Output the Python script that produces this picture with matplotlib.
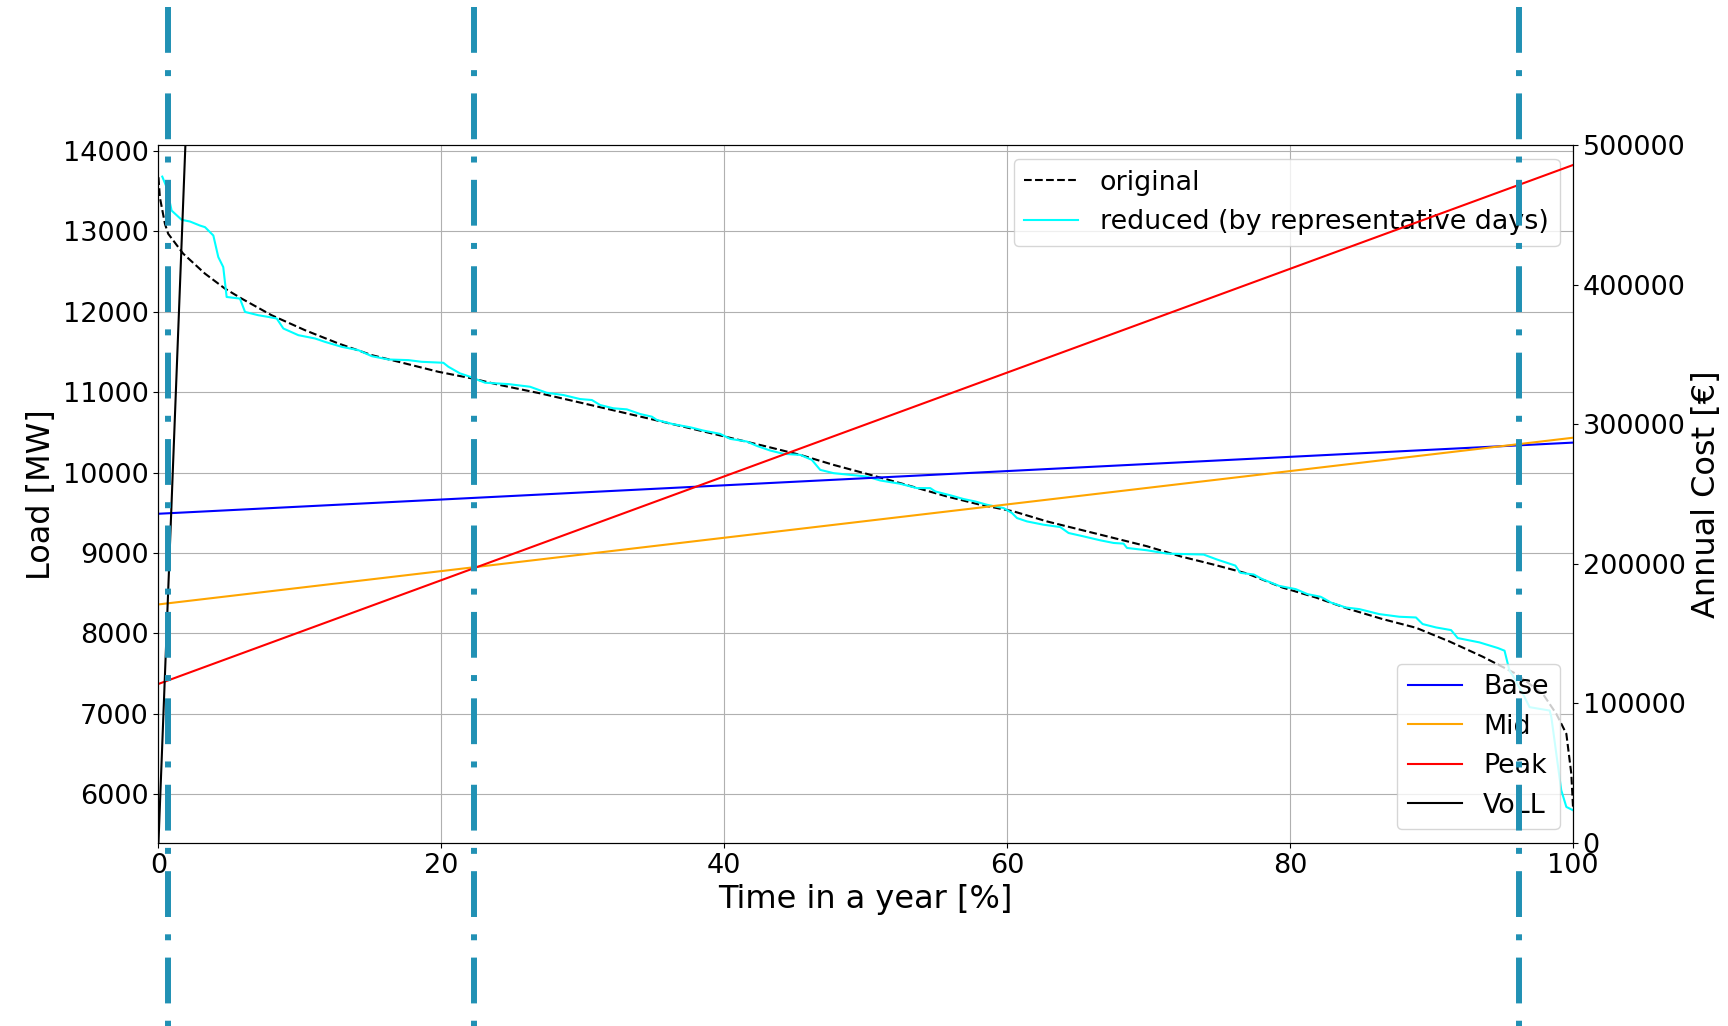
import matplotlib
matplotlib.use('Agg')
import matplotlib.pyplot as plt

# load duration curve, full year (time share in %, load in MW)
original_x = [0, 0.1, 0.46, 0.69, 1.75, 3.29, 4.70, 5.88, 8.0, 10.36, 12.72, 15.08,
              17.43, 19.79, 22.15, 24.15, 26.98, 30.04, 33.58, 37.11, 40.06, 43.01,
              45.37, 47.72, 50.08, 52.44, 55.74, 58.10, 60.45, 62.81, 65.17, 67.53,
              69.89, 72.24, 74.60, 76.96, 79.46, 81.82, 84.18, 86.54, 88.9, 91.26,
              93.62, 95.99, 97.87, 98.82, 99.53, 99.88, 100]
original_y = [13670, 13420, 13090, 12967, 12720, 12472, 12286, 12162, 11955, 11769,
              11604, 11459, 11356, 11252, 11170, 11087, 10984, 10860, 10715, 10570,
              10446, 10322, 10219, 10095, 9983, 9868, 9702, 9599, 9517, 9392, 9289,
              9186, 9083, 8958, 8855, 8744, 8570, 8446, 8302, 8178, 8070, 7900, 7710,
              7496, 7248, 7000, 6752, 6256, 5843]

# load duration curve rebuilt from the representative days
reduced_x = [0.27, 0.58, 0.93, 1.64, 2.23, 2.93, 3.29, 3.88, 4.23, 4.58, 4.82, 5.76,
             6.12, 7.06, 7.77, 8.36, 8.83, 9.89, 11.07, 11.77, 12.96, 14.13, 15.08,
             16.25, 17.67, 18.61, 20.14, 20.5, 21.32, 22.03, 23.09, 24.74, 26.27,
             27.45, 28.63, 29.81, 30.64, 31.22, 32.16, 33.11, 34.05, 34.88, 35.23,
             36.41, 37.59, 38.53, 39.71, 40.42, 41.6, 42.3, 43.25, 44.19, 45.37,
             46.19, 46.78, 47.72, 48.9, 50.08, 51.02, 52.44, 53.62, 54.56, 54.91,
             56.1, 56.92, 57.74, 58.57, 59.75, 60.34, 60.69, 61.4, 62.57, 63.75,
             64.34, 65.4, 66.58, 67.53, 68.23, 68.47, 69.89, 71.3, 73.89, 74.84,
             76.13, 76.48, 77.43, 78.04, 79.22, 80.4, 81.23, 82.17, 82.88, 83.94,
             84.89, 86.3, 87.72, 88.9, 89.37, 90.32, 91.38, 91.85, 93.39, 94.69,
             95.16, 95.51, 95.75, 96.58, 96.93, 98.35, 98.47, 99.17, 99.53, 100]
reduced_y = [13678, 13545, 13256, 13141, 13120, 13070, 13050, 12946, 12678, 12554,
             12182, 12162, 11996, 11955, 11934, 11914, 11790, 11707, 11666, 11624,
             11562, 11521, 11446, 11405, 11397, 11376, 11364, 11314, 11232, 11190,
             11116, 11099, 11066, 10991, 10963, 10913, 10901, 10839, 10798, 10785,
             10727, 10694, 10653, 10600, 10562, 10521, 10480, 10418, 10385, 10331,
             10273, 10232, 10219, 10157, 10033, 9992, 9971, 9950, 9901, 9860, 9806,
             9806, 9765, 9711, 9670, 9640, 9599, 9558, 9496, 9434, 9392, 9351, 9322,
             9248, 9206, 9157, 9124, 9116, 9062, 9033, 8992, 8980, 8918, 8843, 8753,
             8732, 8674, 8591, 8550, 8488, 8455, 8384, 8322, 8302, 8240, 8207, 8198,
             8116, 8074, 8041, 7942, 7888, 7818, 7785, 7537, 7475, 7207, 7083, 7041,
             6959, 6050, 5843, 5802]

# annual cost of each technology vs. operating time (EUR)
cost_x = [0, 100]
base_cost = [236000, 287000]
mid_cost = [171000, 290500]
peak_cost = [114000, 486000]
voll_cost = [0, 26280000]

# position of the representative days in the sorted year (%)
rep_days = [0.65, 22.33, 96.15]

fig = plt.figure(figsize=(17.28, 10.26), dpi=100)
ax1 = fig.add_axes([0.0917, 0.1784, 0.8186, 0.6798])
ax1.plot(original_x, original_y, 'k--', lw=1.5, label='original')
ax1.plot(reduced_x, reduced_y, color='cyan', lw=1.5, label='reduced (by representative days)')
ax1.set_xlim(0, 100)
ax1.set_ylim(5395, 14065)
ax1.set_yticks(range(6000, 14001, 1000))
ax1.grid(True)
ax1.set_xlabel('Time in a year [%]', fontsize=23)
ax1.set_ylabel('Load [MW]', fontsize=23)
ax1.tick_params(labelsize=19.5)
ax1.legend(loc='upper right', fontsize=19.4)

ax2 = ax1.twinx()
ax2.plot(cost_x, base_cost, color='blue', lw=1.5, label='Base')
ax2.plot(cost_x, mid_cost, color='orange', lw=1.5, label='Mid')
ax2.plot(cost_x, peak_cost, color='red', lw=1.5, label='Peak')
ax2.plot(cost_x, voll_cost, color='black', lw=1.5, label='VoLL')
ax2.set_ylim(0, 500000)
ax2.set_xlim(0, 100)
ax2.set_ylabel('Annual Cost [€]', fontsize=23)
ax2.tick_params(labelsize=19.5)
ax2.legend(loc='lower right', fontsize=19.4)

# markers for the chosen days, running over the whole figure height
for d in rep_days:
    ax2.plot([d, d], [1.199, -0.27], transform=ax2.get_xaxis_transform(),
             color='#2191b4', lw=4.3, linestyle=(0, (7.67, 2.9, 1.0, 2.9)),
             clip_on=False, zorder=10)

fig.savefig('out.png', dpi=100)
